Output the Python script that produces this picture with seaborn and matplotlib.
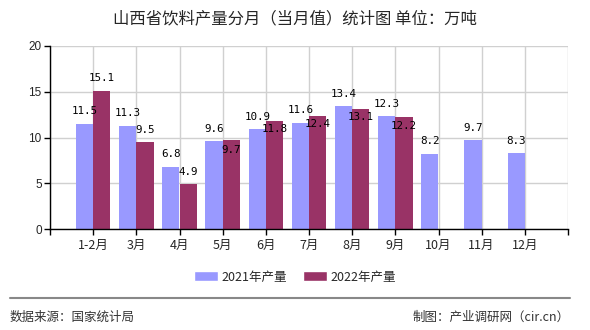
import numpy as np
import pandas as pd
import matplotlib
matplotlib.use("Agg")
import matplotlib.pyplot as plt
import seaborn as sns

months = ["1-2月", "3月", "4月", "5月", "6月", "7月", "8月", "9月", "10月", "11月", "12月"]
vals_2021 = [11.5, 11.3, 6.8, 9.6, 10.9, 11.6, 13.4, 12.3, 8.2, 9.7, 8.3]
vals_2022 = [15.1, 9.5, 4.9, 9.7, 11.8, 12.4, 13.1, 12.2, np.nan, np.nan, np.nan]
series_names = ["2021年产量", "2022年产量"]
title = "山西省饮料产量分月（当月值）统计图 单位：万吨"
source_text = "数据来源：国家统计局"
credit_text = "制图：产业调研网（cir.cn）"

# label vertical offsets in pixels (style only)
off_2021 = [12.5] * len(vals_2021)
off_2022 = [13, 12, 12, -10, -8, -8.5, -8, -9, 0, 0, 0]

sns.set_theme(style="white")
plt.rcParams["font.family"] = ["Noto Sans CJK SC", "DejaVu Sans"]

df = pd.DataFrame({
    "month": months * 2,
    "value": vals_2021 + vals_2022,
    "series": [series_names[0]] * len(months) + [series_names[1]] * len(months),
})

fig = plt.figure(figsize=(5.9, 3.3), dpi=100)
ax = fig.add_axes([50 / 590, 1 - 229 / 330, 518 / 590, 183 / 330])

sns.barplot(data=df, x="month", y="value", hue="series", order=months,
            hue_order=series_names, palette=["#9999FF", "#993366"],
            width=0.8, dodge=True, ax=ax, saturation=1, legend=False,
            errorbar=None, linewidth=0, edgecolor="none")

ax.set_xlim(-1, 11)
ax.set_ylim(0, 20)
ax.set_xticks(range(-1, 12))
ax.set_xticklabels([""] + months + [""], fontsize=9)
ax.set_yticks([0, 5, 10, 15, 20])
ax.set_yticklabels(["0", "5", "10", "15", "20"], fontsize=8.5, family="Liberation Sans")
ax.set_xlabel("")
ax.set_ylabel("")
ax.grid(True, color="#d0d0d0", lw=1)
ax.set_axisbelow(True)
for s in ["top", "right"]:
    ax.spines[s].set_visible(False)
for s in ["left", "bottom"]:
    ax.spines[s].set_color("black")
    ax.spines[s].set_linewidth(1)
ax.tick_params(axis="both", which="major", length=4, width=1, color="black",
               direction="out", pad=2, bottom=True, left=True)
ax.tick_params(axis="x", pad=3)

# value labels
containers = ax.containers
for cont, vals, offs in zip(containers, [vals_2021, vals_2022], [off_2021, off_2022]):
    for rect, v, o in zip(cont.patches, vals, offs):
        if np.isnan(v):
            continue
        ax.annotate(f"{v:.1f}", (rect.get_x() + rect.get_width() / 2, rect.get_height()),
                    xytext=(0, o), textcoords="offset pixels", ha="center", va="center",
                    fontsize=7.8, family="DejaVu Sans Mono", color="black",
                    annotation_clip=False)

fig.text(0.5, 1 - 19 / 330, title, ha="center", va="center", fontsize=11.8)

# legend
from matplotlib.patches import Patch
handles = [Patch(facecolor=c, label=n) for c, n in zip(["#9999FF", "#993366"], series_names)]
fig.legend(handles=handles, loc="center", bbox_to_anchor=(0.5, 1 - 277 / 330), ncol=2,
           frameon=False, fontsize=9, handlelength=1.9, handleheight=0.8,
           handletextpad=0.3, columnspacing=1.3)

# footer
fig.add_artist(plt.Line2D([10 / 590, 570 / 590], [1 - 298 / 330] * 2, color="#888888", lw=1.5,
                          transform=fig.transFigure))
fig.text(10 / 590, 1 - 317 / 330, source_text, ha="left", va="center", fontsize=9, color="#333333")
fig.text(570 / 590, 1 - 317 / 330, credit_text, ha="right", va="center", fontsize=9, color="#333333")

fig.savefig("out.png", dpi=100)
